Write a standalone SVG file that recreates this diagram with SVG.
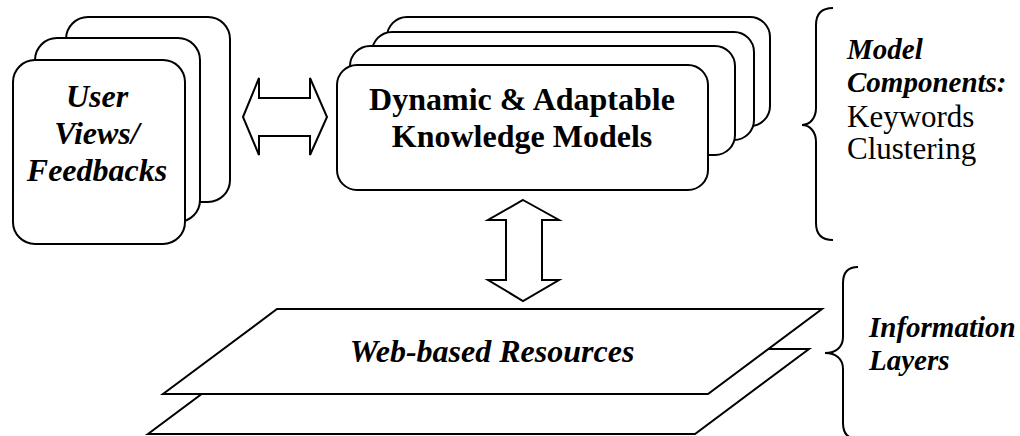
<svg xmlns="http://www.w3.org/2000/svg" width="1020" height="436" viewBox="0 0 1020 436">
  <style>
    .card { fill: #ffffff; stroke: #000000; stroke-width: 2; }
    .shape { fill: #ffffff; stroke: #000000; stroke-width: 2; stroke-linejoin: miter; }
    .brace { fill: none; stroke: #000000; stroke-width: 2; }
    text { font-family: "Liberation Serif", "Times New Roman", serif; fill: #000000; }
    .bi { font-weight: bold; font-style: italic; }
    .b { font-weight: bold; }
    .big { font-size: 32px; }
    .side { font-size: 29px; }
    .reg { font-size: 31px; }
  </style>
  <rect width="1020" height="436" fill="#ffffff"/>

  <!-- Stacked user cards -->
  <g id="user-views">
    <rect class="card" x="66" y="17" width="164" height="185" rx="22" ry="22"/>
    <rect class="card" x="35" y="38" width="165" height="184" rx="22" ry="22"/>
    <rect class="card" x="13" y="60" width="172" height="184" rx="22" ry="22"/>
    <text class="bi big" text-anchor="middle" x="97" y="107">User</text>
    <text class="bi big" text-anchor="middle" x="97" y="144">Views/</text>
    <text class="bi big" text-anchor="middle" x="97" y="181">Feedbacks</text>
  </g>

  <!-- Stacked knowledge model cards -->
  <g id="knowledge-models">
    <rect class="card" x="387" y="17" width="383" height="109" rx="20" ry="20"/>
    <rect class="card" x="372" y="32" width="382" height="108" rx="20" ry="20"/>
    <rect class="card" x="350" y="46" width="385" height="109" rx="20" ry="20"/>
    <rect class="card" x="337" y="65" width="371" height="125" rx="20" ry="20"/>
    <text class="b big" text-anchor="middle" x="522" y="110">Dynamic &amp; Adaptable</text>
    <text class="b big" text-anchor="middle" x="522" y="147">Knowledge Models</text>
  </g>

  <!-- Information layers -->
  <g id="web-resources">
    <polygon class="shape" points="262,349 809,349 695,434 148,434"/>
    <polygon class="shape" points="277,309 822,309 708,394 163,394"/>
    <text class="bi big" text-anchor="middle" x="492" y="362">Web-based Resources</text>
  </g>

  <!-- Side annotations -->
  <g id="model-components">
    <path class="brace" d="M833,8 C822,8 816,14 816,25 L816,108 C816,118 810,125 802,125 C810,125 816,132 816,142 L816,223 C816,234 822,240 833,240"/>
    <text class="bi side" x="847" y="59">Model</text>
    <text class="bi side" x="847" y="92">Components:</text>
    <text class="reg" x="847" y="127">Keywords</text>
    <text class="reg" x="847" y="159">Clustering</text>
  </g>

  <g id="information-layers">
    <path class="brace" d="M858,267 C848,267 843,273 843,283 L843,337 C843,347 836,353 825,353 C836,353 843,359 843,369 L843,423 C843,433 848,439 858,439"/>
    <text class="bi side" x="869" y="337">Information</text>
    <text class="bi side" x="869" y="370">Layers</text>
  </g>

  <!-- Connectors: hollow double-headed block arrows -->
  <g id="connectors">
    <polygon class="shape" points="243,117 259,78 259,98 310,98 310,78 327,117 310,155 310,136 259,136 259,155"/>
    <polygon class="shape" points="523,200 559,220 542,220 542,280 559,280 523,301 488,280 506,280 506,220 488,220"/>
  </g>
</svg>
